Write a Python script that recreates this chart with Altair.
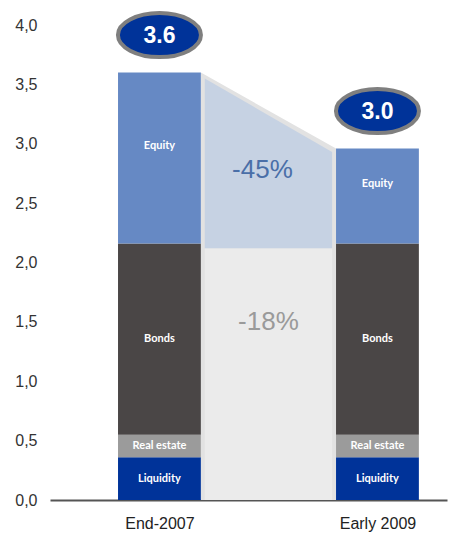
import altair as alt
import pandas as pd

# ---- data ----
categories = ["End-2007", "Early 2009"]
segments = ["Liquidity", "Real estate", "Bonds", "Equity"]
liquidity = [0.36, 0.36]
real_estate = [0.19, 0.19]
bonds = [1.61, 1.61]
equity = [1.44, 0.80]
total_labels = ["3.6", "3.0"]
change_labels = ["-45%", "-18%"]
equity_floor_band = 2.12

colors = {"Liquidity": "#003399", "Real estate": "#9b9b9b",
          "Bonds": "#4a4646", "Equity": "#6689c4"}

HW = 0.19  # bar half width in x units
positions = [0, 1]

# stacked segments
rows = []
for i, cat in enumerate(categories):
    base = 0.0
    for seg, vals in zip(segments, [liquidity, real_estate, bonds, equity]):
        v = vals[i]
        mid = base + v / 2
        if seg == "Equity":
            mid += 0.1
        rows.append({"cat": cat, "pos": positions[i], "x0": positions[i] - HW,
                     "x1": positions[i] + HW, "seg": seg, "y0": base,
                     "y1": base + v, "ymid": mid})
        base += v
seg_df = pd.DataFrame(rows)

totals = [liquidity[i] + real_estate[i] + bonds[i] + equity[i] for i in range(2)]

tot_df = pd.DataFrame({"pos": positions, "total": totals, "label": total_labels})
tot_df["ey"] = tot_df["total"] + 0.315

# connector shapes
inset = 0.018
outer_df = pd.DataFrame({"x": [positions[0] + HW, positions[1] - HW],
                         "top": totals, "bot": [0, 0]})
inner_top_df = pd.DataFrame({"x": [positions[0] + HW + inset, positions[1] - HW - inset],
                             "top": [totals[0] - 0.05, totals[1] - 0.03],
                             "bot": [equity_floor_band, equity_floor_band]})
inner_low_df = pd.DataFrame({"x": [positions[0] + HW + inset, positions[1] - HW - inset],
                             "top": [equity_floor_band, equity_floor_band],
                             "bot": [0, 0]})

mid_x = (positions[0] + positions[1]) / 2
chg_df = pd.DataFrame({"x": [mid_x, mid_x], "y": [2.78, 1.50],
                       "label": change_labels, "kind": ["eq", "tot"]})

FONT = "Liberation Sans"
xscale = alt.Scale(domain=[-0.502, 1.319], nice=False, zero=False)
yscale = alt.Scale(domain=[0, 4], nice=False)

label_expr = "datum.value == 0 ? '%s' : '%s'" % (categories[0], categories[1])

x_axis = alt.Axis(values=positions, labelExpr=label_expr, title=None, ticks=False,
                  grid=False, domainColor="#555555", domainWidth=2,
                  labelFont=FONT, labelFontSize=16, labelColor="#222222",
                  labelPadding=15)
y_axis = alt.Axis(values=[0, 0.5, 1, 1.5, 2, 2.5, 3, 3.5, 4], title=None,
                  labelExpr="replace(format(datum.value, '.1f'), '.', ',')",
                  ticks=False, grid=False, domain=False, labelFont=FONT,
                  labelFontSize=16, labelColor="#333333", labelPadding=13)

outer = alt.Chart(outer_df).mark_area(color="#e2e2e2").encode(
    x=alt.X("x:Q", scale=xscale, axis=x_axis),
    y=alt.Y("top:Q", scale=yscale, axis=y_axis),
    y2="bot:Q")
inner_low = alt.Chart(inner_low_df).mark_area(color="#ebebeb").encode(
    x=alt.X("x:Q", scale=xscale), y=alt.Y("top:Q", scale=yscale), y2="bot:Q")
inner_top = alt.Chart(inner_top_df).mark_area(color="#c6d2e3").encode(
    x=alt.X("x:Q", scale=xscale), y=alt.Y("top:Q", scale=yscale), y2="bot:Q")

bars = alt.Chart(seg_df).mark_rect().encode(
    x=alt.X("x0:Q", scale=xscale), x2="x1:Q",
    y=alt.Y("y0:Q", scale=yscale), y2="y1:Q",
    color=alt.Color("seg:N", scale=alt.Scale(domain=list(colors.keys()),
                                             range=list(colors.values())),
                    legend=None))
seg_text = alt.Chart(seg_df).mark_text(font="Lato", fontWeight="bold", fontSize=11,
                                       color="white", baseline="middle").encode(
    x=alt.X("pos:Q", scale=xscale), y=alt.Y("ymid:Q", scale=yscale), text="seg:N")

ellipse_path = "M-1,0A1,0.53,0,1,0,1,0A1,0.53,0,1,0,-1,0Z"
ellipses = alt.Chart(tot_df).mark_point(shape=ellipse_path, size=6889, filled=True,
                                        fill="#003399", stroke="#7f7f7f",
                                        strokeWidth=4, opacity=1).encode(
    x=alt.X("pos:Q", scale=xscale), y=alt.Y("ey:Q", scale=yscale))
ell_text = alt.Chart(tot_df).mark_text(font=FONT, fontWeight="bold", fontSize=23,
                                       color="white", baseline="middle", dy=1).encode(
    x=alt.X("pos:Q", scale=xscale), y=alt.Y("ey:Q", scale=yscale), text="label:N")

chg_eq = alt.Chart(chg_df[chg_df.kind == "eq"]).mark_text(
    font=FONT, fontSize=26, color="#4a6fa8", baseline="middle", dx=-6).encode(
    x=alt.X("x:Q", scale=xscale), y=alt.Y("y:Q", scale=yscale), text="label:N")
chg_tot = alt.Chart(chg_df[chg_df.kind == "tot"]).mark_text(
    font=FONT, fontSize=26, color="#9a9a9a", baseline="middle").encode(
    x=alt.X("x:Q", scale=xscale), y=alt.Y("y:Q", scale=yscale), text="label:N")

chart = alt.layer(outer, inner_low, inner_top, bars, seg_text, ellipses, ell_text,
                  chg_eq, chg_tot).properties(
    width=397, height=475,
    autosize=alt.AutoSizeParams(type="none"),
    padding={"left": 42, "top": 17, "right": 2, "bottom": 33}
).configure_view(stroke=None)

chart.save("out.html", embed_options={"renderer": "svg", "actions": False})
